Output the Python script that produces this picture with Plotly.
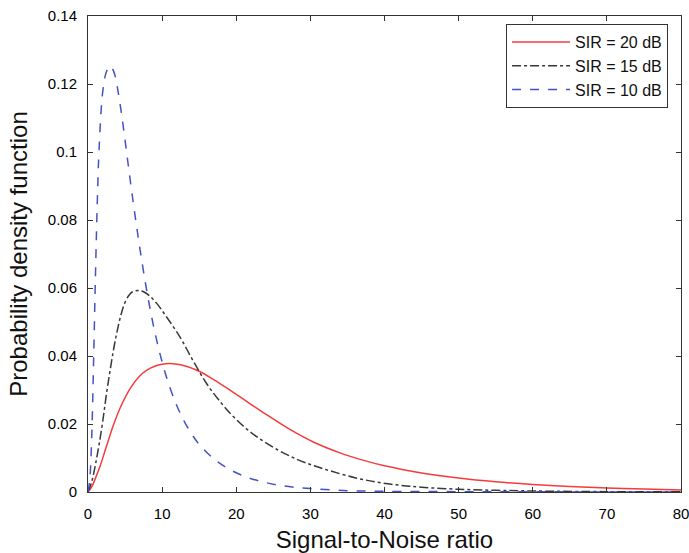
import plotly.graph_objects as go

# SIR = 20 dB (red, solid)
x_sir20 = [0, 0.5, 1.0, 1.6, 2.5, 3.4, 4.5, 5.7, 7.0, 7.9, 9.0, 10.0, 11.1, 12.5, 14.7, 17.0, 19.2, 21.5, 23.7, 27.0, 30.4, 34.0, 37.2, 40.0, 45.0, 50.0, 55.0, 60.0, 65.0, 70.0, 75.0, 80.0]
y_sir20 = [0, 0.0015, 0.0040, 0.0074, 0.0135, 0.0195, 0.0255, 0.0305, 0.0342, 0.0358, 0.0370, 0.0376, 0.0378, 0.0374, 0.0358, 0.0330, 0.0299, 0.0265, 0.0233, 0.0187, 0.0147, 0.0115, 0.0093, 0.0077, 0.0056, 0.0041, 0.0030, 0.0022, 0.0016, 0.0012, 0.0009, 0.0006]

# SIR = 15 dB (black, dash-dot)
x_sir15 = [0, 0.5, 1.0, 1.5, 2.0, 2.5, 3.0, 3.5, 4.0, 4.5, 5.0, 5.5, 6.0, 6.8, 7.5, 8.4, 9.3, 10.5, 12.4, 14.2, 16.0, 17.6, 19.2, 21.0, 22.8, 25.5, 28.2, 30.5, 32.7, 36.0, 39.0, 42.0, 45.0, 50.0, 55.0, 60.0, 70.0, 80.0]
y_sir15 = [0, 0.0030, 0.0080, 0.0140, 0.0210, 0.0290, 0.0360, 0.0425, 0.0480, 0.0525, 0.0558, 0.0578, 0.0589, 0.0593, 0.0589, 0.0575, 0.0554, 0.0518, 0.0456, 0.0385, 0.0319, 0.0272, 0.0231, 0.0193, 0.0162, 0.0125, 0.0096, 0.0077, 0.0062, 0.0042, 0.0029, 0.0020, 0.0014, 0.0008, 0.0005, 0.0003, 0.0001, 0.00005]

# SIR = 10 dB (blue, dashed)
x_sir10 = [0, 0.25, 0.5, 0.75, 1.0, 1.25, 1.5, 2.0, 2.5, 3.0, 3.5, 4.0, 4.5, 5.0, 5.5, 6.0, 6.5, 7.0, 8.0, 9.0, 10.0, 11.0, 12.0, 13.0, 14.0, 15.0, 17.0, 19.0, 21.0, 23.0, 26.0, 30.0, 35.0, 40.0, 50.0, 60.0, 80.0]
y_sir10 = [0, 0.0040, 0.0160, 0.0380, 0.0630, 0.0850, 0.1010, 0.1180, 0.1237, 0.1253, 0.1235, 0.1185, 0.1115, 0.1035, 0.0950, 0.0868, 0.0790, 0.0716, 0.0583, 0.0472, 0.0382, 0.0310, 0.0253, 0.0207, 0.0170, 0.0140, 0.0097, 0.0068, 0.0047, 0.0033, 0.0019, 0.0010, 0.0004, 0.0002, 0.0001, 0.00005, 0.0]

x_ticks = [0, 10, 20, 30, 40, 50, 60, 70, 80]
y_ticks = [0, 0.02, 0.04, 0.06, 0.08, 0.1, 0.12, 0.14]
y_tick_labels = ["0", "0.02", "0.04", "0.06", "0.08", "0.1", "0.12", "0.14"]

FONT = "Liberation Sans, Arial, sans-serif"

fig = go.Figure()
fig.add_trace(go.Scatter(x=x_sir20, y=y_sir20, mode="lines", name="SIR = 20 dB",
                         line=dict(color="#f53b3b", width=1.5, dash="solid", shape="spline")))
fig.add_trace(go.Scatter(x=x_sir15, y=y_sir15, mode="lines", name="SIR = 15 dB",
                         line=dict(color="#383838", width=1.5, dash="dashdot", shape="spline")))
fig.add_trace(go.Scatter(x=x_sir10, y=y_sir10, mode="lines", name="SIR = 10 dB",
                         line=dict(color="#4652c4", width=1.5, dash="dash", shape="spline")))

axis_common = dict(showline=True, linecolor="#333333", linewidth=1, mirror="ticks",
                   ticks="inside", ticklen=5, tickcolor="#333333", showgrid=False,
                   zeroline=False, automargin=False, ticklabeloverflow="allow",
                   tickfont=dict(family=FONT, size=15, color="#000000"))

fig.update_layout(
    width=689, height=553,
    margin=dict(l=88, r=8, t=16, b=61, autoexpand=False),
    paper_bgcolor="white", plot_bgcolor="white",
    font=dict(family=FONT, color="#111111"),
    showlegend=True,
    legend=dict(x=0.705, y=0.983, xanchor="left", yanchor="top",
                bgcolor="white", bordercolor="#333333", borderwidth=1,
                font=dict(family=FONT, size=16, color="#111111"),
                tracegroupgap=0, itemwidth=58),
    xaxis=dict(range=[0, 80], tickvals=x_ticks, ticklabelstandoff=8,
               title=dict(text="Signal-to-Noise ratio", font=dict(family=FONT, size=24), standoff=15),
               **axis_common),
    yaxis=dict(range=[0, 0.14], tickvals=y_ticks, ticktext=y_tick_labels, ticklabelstandoff=7,
               title=dict(text="Probability density function", font=dict(family=FONT, size=24), standoff=13),
               **axis_common),
)

fig.write_html("out.html", config={"displayModeBar": False},
               post_script="document.body.style.margin='0px';document.body.style.overflow='hidden';")
